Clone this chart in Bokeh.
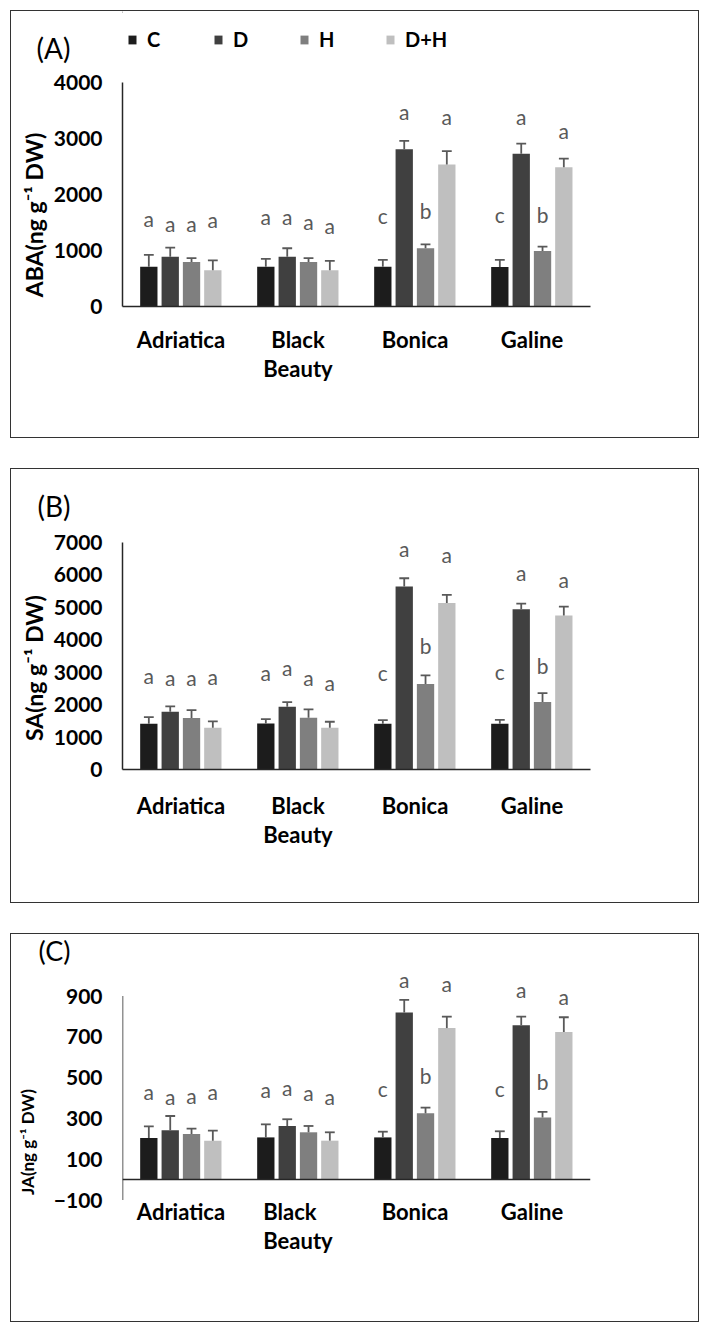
import math
from bokeh.plotting import figure
from bokeh.models import (FactorRange, Range1d, FixedTicker, LabelSet,
                          ColumnDataSource, Span, LinearAxis)
from bokeh.transform import dodge
from bokeh.layouts import column
from bokeh.core.properties import value
from bokeh.embed import file_html
from bokeh.resources import INLINE

# ---------------- data ----------------
cultivars = ["Adriatica", "Black\nBeauty", "Bonica", "Galine"]
treatments = ["C", "D", "H", "D+H"]
colors = ["#1c1c1c", "#404040", "#7f7f7f", "#bfbfbf"]

# order of inner lists: Adriatica, Black Beauty, Bonica, Galine
aba_means = [[712, 712, 712, 706], [890, 890, 2806, 2729],
             [795, 795, 1039, 991], [648, 648, 2534, 2486]]
aba_errs = [[210, 137, 120, 125], [160, 150, 150, 180],
            [70, 70, 70, 77], [175, 165, 240, 155]]
aba_letter_y = [[1573, 1601, 1620, 1650], [1484, 1601, 3488, 3399],
                [1490, 1513, 1721, 1650], [1550, 1441, 3399, 3144]]

sa_means = [[1410, 1420, 1410, 1410], [1781, 1935, 5641, 4941],
            [1585, 1596, 2635, 2079], [1287, 1287, 5137, 4746]]
sa_errs = [[206, 134, 113, 123], [165, 144, 257, 175],
           [247, 257, 268, 278], [195, 185, 247, 278]]
sa_letter_y = [[2903, 2985, 2985, 3037], [2831, 3140, 6815, 6074],
               [2831, 2831, 3829, 3222], [2882, 2677, 6640, 5868]]

ja_means = [[204, 207, 207, 204], [242, 263, 819, 757],
            [224, 232, 325, 304], [191, 191, 743, 724]]
ja_errs = [[57, 64, 28, 33], [70, 33, 62, 42],
           [26, 31, 28, 28], [49, 41, 56, 72]]
ja_letter_y = [[433, 441, 446, 449], [408, 452, 980, 931],
               [413, 425, 511, 479], [430, 408, 962, 896]]

letters = [["a", "a", "c", "c"], ["a", "a", "a", "a"],
           ["a", "a", "b", "b"], ["a", "a", "a", "a"]]

aba_ticks = [0, 1000, 2000, 3000, 4000]
sa_ticks = [0, 1000, 2000, 3000, 4000, 5000, 6000, 7000]
ja_ticks = [-100, 100, 300, 500, 700, 900]

offsets = [-0.275, -0.092, 0.09, 0.272]
BAR_W = 0.148
CAP = 0.042
FONT = "Lato"
GREY = "#595959"
AXIS = "#262626"
W = 687
LEFT = 111
FRAME_W = 468
RIGHT = W - LEFT - FRAME_W
CAT_LH = 1.1


def make_header(height, tag, tag_y, tag_size, legend=False, legend_y=18):
    h = figure(width=W, height=height, x_range=Range1d(0, FRAME_W),
               y_range=Range1d(height, 0), output_backend="svg",
               toolbar_location=None, x_axis_type=None,
               min_border_left=LEFT, min_border_right=RIGHT,
               min_border_top=0, min_border_bottom=0)
    h.outline_line_color = None
    h.xgrid.grid_line_color = None
    h.ygrid.grid_line_color = None
    # panel tag shown as the single tick label of the header's left axis
    h.yaxis.ticker = FixedTicker(ticks=[tag_y])
    h.yaxis.major_label_overrides = {tag_y: tag}
    h.yaxis.major_label_text_font = FONT
    h.yaxis.major_label_text_font_size = tag_size
    h.yaxis.major_label_text_color = "black"
    h.yaxis.major_label_standoff = 52
    h.yaxis.axis_line_color = None
    h.yaxis.major_tick_line_color = None
    h.yaxis.minor_tick_line_color = None
    h.yaxis.major_tick_out = 0
    if legend:
        for t, c in zip(treatments, colors):
            h.vbar(x=[-1000], top=[1], width=1, fill_color=c,
                   line_color=None, legend_label=t)
        lg = h.legend[0]
        lg.orientation = "horizontal"
        lg.location = (5, legend_y)
        lg.glyph_width = 10
        lg.glyph_height = 11
        lg.label_standoff = 10
        lg.label_width = 66
        lg.spacing = 0
        lg.padding = 0
        lg.margin = 0
        lg.border_line_color = None
        lg.background_fill_alpha = 0
        lg.label_text_font = FONT
        lg.label_text_font_style = "bold"
        lg.label_text_font_size = "20px"
        lg.label_text_color = "black"
    return h


def make_chart(height, top_b, bottom_b, yr, ticks, means, errs, letter_y,
               ylabel, ylabel_y, ylabel_size, ylabel_standoff,
               lab_standoff=None, cat_label_y=None, axis_top=None):
    p = figure(width=W, height=height,
               x_range=FactorRange(*cultivars, range_padding=0),
               y_range=Range1d(*yr), output_backend="svg",
               toolbar_location=None, min_border_left=LEFT,
               min_border_right=RIGHT, min_border_top=top_b,
               min_border_bottom=bottom_b)
    p.outline_line_color = None
    p.xgrid.grid_line_color = None
    p.ygrid.grid_line_color = None

    for i, t in enumerate(treatments):
        src = ColumnDataSource(dict(
            cat=cultivars, top=means[i],
            upper=[m + e for m, e in zip(means[i], errs[i])],
            letter=letters[i], ly=letter_y[i]))
        xd = dodge("cat", offsets[i], range=p.x_range)
        p.vbar(x=xd, top="top", width=BAR_W, source=src,
               fill_color=colors[i], line_color=None)
        p.segment(x0=xd, y0="top", x1=xd, y1="upper", source=src,
                  line_color=GREY, line_width=1.8)
        p.segment(x0=dodge("cat", offsets[i] - CAP, range=p.x_range), y0="upper",
                  x1=dodge("cat", offsets[i] + CAP, range=p.x_range), y1="upper",
                  source=src, line_color=GREY, line_width=1.8)
        p.add_layout(LabelSet(x=xd, y="ly", text="letter", source=src,
                              text_align="center", text_baseline="middle",
                              text_font=value(FONT), text_font_size="21px",
                              text_color=GREY))

    ya = p.yaxis[0]
    ya.ticker = FixedTicker(ticks=ticks)
    ya.major_tick_line_color = None
    ya.minor_tick_line_color = None
    ya.major_tick_out = 0
    ya.major_tick_in = 0
    ya.major_label_standoff = 20
    ya.major_label_text_font = FONT
    ya.major_label_text_font_style = "bold"
    ya.major_label_text_font_size = "21px"
    ya.major_label_text_color = "black"
    ya.axis_line_color = AXIS
    ya.axis_line_width = 1.5
    if axis_top is not None:
        ya.axis_line_color = None
        p.segment(x0=[0], y0=[ticks[0]], x1=[0], y1=[axis_top],
                  line_color=AXIS, line_width=1.5)

    # y-axis title: drawn by an outer left axis so it can sit where Excel put it
    p.extra_y_ranges = {"title": Range1d(*yr)}
    ta = LinearAxis(y_range_name="title", ticker=FixedTicker(ticks=[ylabel_y]),
                    major_label_overrides={ylabel_y: ylabel},
                    major_label_orientation="vertical",
                    major_label_standoff=ylabel_standoff,
                    major_label_text_font=FONT,
                    major_label_text_font_style="bold",
                    major_label_text_font_size=ylabel_size,
                    major_label_text_color="black",
                    axis_line_color=None, major_tick_line_color=None,
                    minor_tick_line_color=None, major_tick_out=0,
                    major_tick_in=0)
    p.add_layout(ta, "left")

    if cat_label_y is None:
        p.xaxis.major_tick_line_color = None
        p.xaxis.major_tick_out = 0
        p.xaxis.major_label_standoff = lab_standoff
        p.xaxis.major_label_text_font = FONT
        p.xaxis.major_label_text_font_style = "bold"
        p.xaxis.major_label_text_font_size = "22px"
        p.xaxis.major_label_text_color = "black"
        p.xaxis.major_label_text_line_height = CAT_LH
        p.xaxis.axis_line_color = AXIS
        p.xaxis.axis_line_width = 1.5
    else:
        # horizontal axis crosses at 0; category names sit under -100
        p.xaxis.visible = False
        p.add_layout(Span(location=0, dimension="width",
                          line_color=AXIS, line_width=1.5))
        csrc = ColumnDataSource(dict(cat=cultivars))
        p.add_layout(LabelSet(x="cat", y=cat_label_y, text="cat", source=csrc,
                              text_align="center", text_baseline="top",
                              text_font=value(FONT),
                              text_font_style=value("bold"),
                              text_font_size="22px", text_color="black",
                              text_line_height=CAT_LH))
    return p


hA = make_header(58, "(A)", 36.5, "28px", legend=True, legend_y=18)
pA = make_chart(368, 13, 131, (0, 4000), aba_ticks, aba_means, aba_errs,
                aba_letter_y, "ABA(ng g\u207b\u00b9 DW)", 1634, "23px", 2,
                lab_standoff=19)
hB = make_header(60, "(B)", 36.5, "28px")
pB = make_chart(373, 13, 133, (0, 7000), sa_ticks, sa_means, sa_errs,
                sa_letter_y, "SA(ng g\u207b\u00b9 DW)", 3125, "23px", 2,
                lab_standoff=22)
hC = make_header(33, "(C)", 17, "27px")
pC = make_chart(354, 0, 4, (-676, 1040), ja_ticks, ja_means, ja_errs,
                ja_letter_y, "JA(ng g\u207b\u00b9 DW)", 184, "17px", 12,
                cat_label_y=-89, axis_top=900)

box = {"border": "1.5px solid #333333"}
panelA = column(hA, pA, spacing=0, styles=box)
panelB = column(hB, pB, spacing=0, styles=box)
panelC = column(hC, pC, spacing=0, styles=box)
layout = column(panelA, panelB, panelC, spacing=30, margin=(10, 0, 0, 10))
open("out.html", "w").write(file_html(layout, INLINE))
